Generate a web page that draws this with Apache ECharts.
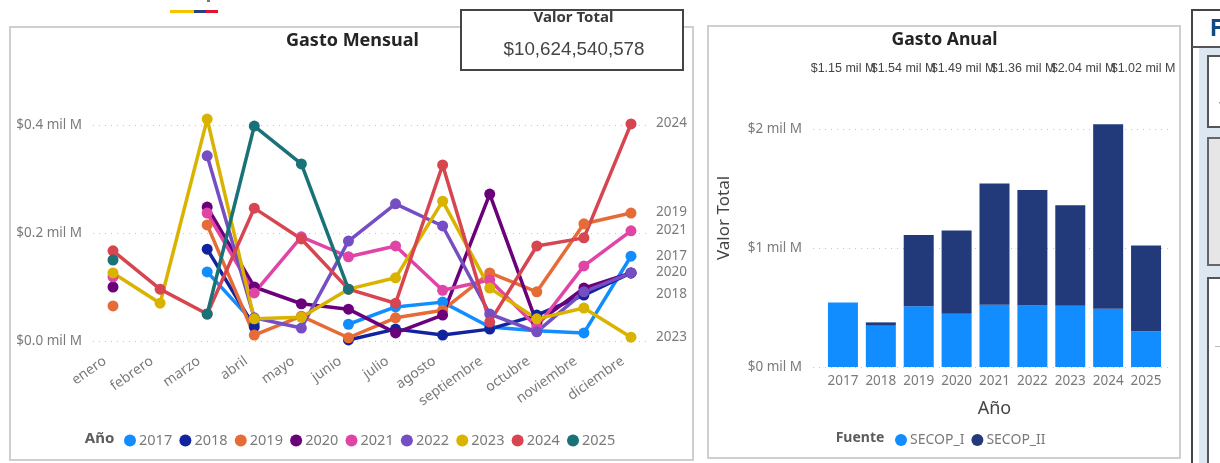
<!DOCTYPE html>
<html><head><meta charset="utf-8">
<style>html,body{margin:0;padding:0;background:#fff}#c{width:1220px;height:463px}</style>
<script src="https://cdn.jsdelivr.net/npm/echarts@6/dist/echarts.min.js"></script>
</head><body><div id="c"></div>
<script>
const months = ['enero','febrero','marzo','abril','mayo','junio','julio','agosto','septiembre','octubre','noviembre','diciembre'];
const y2017 = [null,null,.128,.033,null,.031,.063,.072,.026,.019,.015,.157];
const y2018 = [null,null,.170,.026,null,.002,.022,.011,.022,.048,.085,.126];
const y2019 = [.065,null,.215,.011,.046,.006,.043,.057,.126,.091,.217,.237];
const y2020 = [.100,null,.248,.100,.069,.059,.015,.048,.272,.033,.098,.126];
const y2021 = [.119,null,.237,.089,.193,.156,.176,.094,.113,.026,.139,.204];
const y2022 = [null,null,.343,.043,.024,.185,.254,.213,.050,.017,.091,.126];
const y2023 = [.126,.070,.411,.041,.044,.096,.117,.259,.098,.041,.061,.007];
const y2024 = [.167,.096,.050,.246,.189,.096,.070,.326,.035,.176,.191,.402];
const y2025 = [.150,null,.050,.398,.328,.096,null,null,null,null,null,null];
const yearNames = ['2017','2018','2019','2020','2021','2022','2023','2024','2025'];
const yearColors = ['#118DFF','#12239E','#E66C37','#6B007B','#E044A7','#744EC2','#D9B300','#D64550','#197278'];
const endLabelShift = [-1,20,-2,-2,-2,null,-1,-2,null];
const annualYears = ['2017','2018','2019','2020','2021','2022','2023','2024','2025'];
const secopI = [.543,.347,.51,.447,.523,.517,.515,.49,.30];
const secopII = [0,.028,.60,.70,1.02,.97,.845,1.55,.72];
const totalLabels = ['$1.15 mil M','$1.54 mil M','$1.49 mil M','$1.36 mil M','$2.04 mil M','$1.02 mil M'];

const ui = '"Noto Sans", sans-serif';
const gray = '#7a7a7a';
const lineData = [y2017,y2018,y2019,y2020,y2021,y2022,y2023,y2024,y2025];
const hiddenAxis = {axisLine:{show:false},axisTick:{show:false},axisLabel:{show:false},splitLine:{show:false}};
const dotted = {show:true,lineStyle:{type:[1,5],color:'#c4c4c4',width:1}};

const lineSeries = yearNames.map((n,i)=>({
  name:n,type:'line',xAxisIndex:0,yAxisIndex:0,data:lineData[i],clip:false,
  symbol:'circle',symbolSize:11,showAllSymbol:true,connectNulls:false,
  lineStyle:{width:3.5,color:yearColors[i]},itemStyle:{color:yearColors[i]},
  endLabel:{show:endLabelShift[i]!==null,formatter:n,color:gray,fontFamily:ui,fontSize:13.5,
            offset:[17,(endLabelShift[i]||0)+1]},
  emphasis:{disabled:true}
}));

function rect(x,y,w,h,fill,stroke,lw){return {type:'rect',silent:true,z:-10,shape:{x,y,width:w,height:h},style:{fill:fill||'transparent',stroke:stroke||null,lineWidth:lw||0}};}
function text(x,y,t,font,color,extra){return Object.assign({type:'text',silent:true,z:50,x,y,style:Object.assign({text:t,font,fill:color,align:'center',verticalAlign:'middle'},{})},extra||{});}

const chrome = [
  rect(170,10,24,3,'#F5C400'),rect(194,10,12,3,'#2B3F86'),rect(206,10,12,3,'#E0142E'),rect(207,0,3,2,'#777'),
  rect(10,27,683,433,'#fff','#cfcfcf',2),
  rect(708,26,472,432,'#fff','#cfcfcf',2),
  rect(1192,10,40,460,'#fff','#444',2),
  rect(1199,47,30,420,'#dde7f2'),
  {type:'line',silent:true,z:-9,shape:{x1:1192,y1:47,x2:1220,y2:47},style:{stroke:'#555',lineWidth:2}},
  rect(1208,56,30,71,'#fff','#555',2),
  rect(1208,138,30,127,'#e6e6e6','#666',2),
  rect(1208,278,30,200,'#fff','#555',2),
  rect(1219,102,2,1.5,'#999'),
  rect(1215,346,8,1,'#bbb'),
  Object.assign(rect(461,10,222,60,'#fff','#444',2),{z:40}),
  text(352.5,41,'Gasto Mensual','bold 18px '+ui,'#252423'),
  text(944.5,40,'Gasto Anual','bold 17.6px '+ui,'#252423'),
  text(573.5,18,'Valor Total','bold 15px '+ui,'#3a3a3a'),
  text(574,50,'$10,624,540,578','18.8px "Liberation Sans", sans-serif','#444'),
  text(99.5,439,'Año','bold 15px '+ui,'#5c5c5c'),
  text(860,438,'Fuente','bold 14px '+ui,'#5c5c5c'),
  text(724,218,'Valor Total','17px '+ui,'#444',{rotation:Math.PI/2}),
  text(1216,29,'F','bold 23px '+ui,'#134a7f')
];

const option = {
  animation:false,
  textStyle:{fontFamily:ui},
  grid:[
    {left:113,width:518,top:125,height:216},
    {left:93,width:555,top:125,height:216},
    {left:824,width:341,top:129,height:238},
    {left:813,width:360,top:129,height:238}
  ],
  xAxis:[
    {gridIndex:0,type:'category',data:months,boundaryGap:false,axisLine:{show:false},axisTick:{show:false},
      axisLabel:{rotate:35,interval:0,color:gray,fontSize:14,margin:13,padding:[0,10,0,0],fontFamily:ui},splitLine:{show:false}},
    {gridIndex:1,type:'category',data:months,...hiddenAxis},
    {gridIndex:2,type:'category',data:annualYears,axisLine:{show:false},axisTick:{show:false},
      axisLabel:{interval:0,color:gray,fontSize:13.5,margin:7,fontFamily:ui},splitLine:{show:false},
      name:'Año',nameLocation:'middle',nameGap:33,nameTextStyle:{fontSize:18,color:'#444',fontFamily:ui}},
    {gridIndex:3,type:'category',position:'top',data:totalLabels,axisLine:{show:false},axisTick:{show:false},
      axisLabel:{interval:0,hideOverlap:false,color:'#444',fontSize:12.5,margin:54,fontFamily:'"Liberation Sans", sans-serif'},splitLine:{show:false}}
  ],
  yAxis:[
    {gridIndex:0,type:'value',min:0,max:.4,interval:.2,...hiddenAxis},
    {gridIndex:1,type:'value',min:0,max:.4,interval:.2,axisLine:{show:false},axisTick:{show:false},
      axisLabel:{color:gray,fontSize:13.5,margin:11,fontFamily:ui,formatter:v=>'$'+v.toFixed(1)+' mil M'},splitLine:dotted},
    {gridIndex:2,type:'value',min:0,max:2,interval:1,...hiddenAxis},
    {gridIndex:3,type:'value',min:0,max:2,interval:1,axisLine:{show:false},axisTick:{show:false},
      axisLabel:{color:gray,fontSize:13.5,margin:11,fontFamily:ui,formatter:v=>'$'+v+' mil M'},splitLine:dotted}
  ],
  legend:[
    {data:yearNames,left:119,top:428,icon:'circle',itemWidth:12,itemHeight:12,itemGap:7.2,selectedMode:false,
      textStyle:{color:gray,fontSize:14.5,padding:[0,0,0,-2],fontFamily:ui}},
    {data:['SECOP_I','SECOP_II'],left:890,top:428,icon:'circle',itemWidth:12,itemHeight:12,itemGap:7,selectedMode:false,
      textStyle:{color:gray,fontSize:14,padding:[0,0,0,-2],fontFamily:ui}}
  ],
  series:[...lineSeries,
    {name:'SECOP_I',type:'bar',stack:'a',xAxisIndex:2,yAxisIndex:2,data:secopI,barWidth:30,clip:false,itemStyle:{color:'#118DFF'},emphasis:{disabled:true}},
    {name:'SECOP_II',type:'bar',stack:'a',xAxisIndex:2,yAxisIndex:2,data:secopII,barWidth:30,clip:false,itemStyle:{color:'#223A7A'},emphasis:{disabled:true}}
  ],
  graphic:chrome
};
const chart = echarts.init(document.getElementById('c'),null,{renderer:'canvas'});
chart.setOption(option);
</script></body></html>
